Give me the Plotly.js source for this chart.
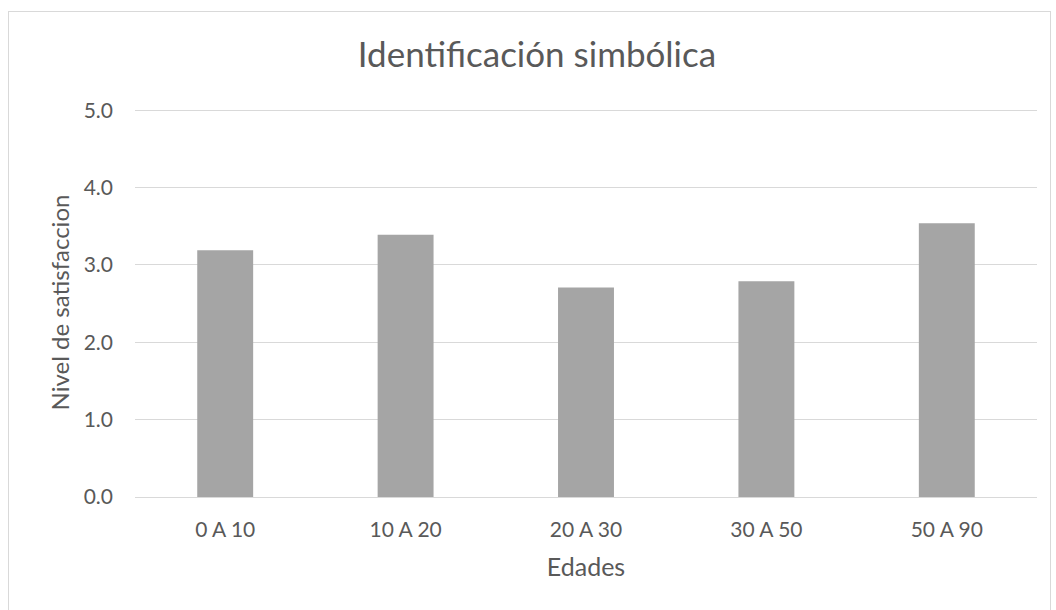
<!DOCTYPE html>
<html><head><meta charset="utf-8">
<script src="https://cdn.plot.ly/plotly-3.0.1.min.js"></script>
<style>body{margin:0;background:#fff}#wrap{position:relative;width:1056px;height:610px}#frame{position:absolute;left:8px;top:11px;width:1041px;height:620px;border:1px solid #d9d9d9;pointer-events:none}</style>
</head><body>
<div id="wrap"><div id="chart" style="width:1056px;height:610px"></div><div id="frame"></div></div>
<script>
const categories = ["0 A 10", "10 A 20", "20 A 30", "30 A 50", "50 A 90"];
const values = [3.19, 3.39, 2.71, 2.79, 3.54];
const yTicks = [0, 1, 2, 3, 4, 5];
const FONT = "Lato, 'Open Sans', sans-serif";
Plotly.newPlot("chart", [{
  type: "bar", x: categories, y: values,
  marker: {color: "#a5a5a5"}, hoverinfo: "x+y"
}], {
  width: 1056, height: 610,
  margin: {l: 135, r: 19, t: 108, b: 113},
  paper_bgcolor: "#fff", plot_bgcolor: "#fff",
  bargap: 0.69,
  title: {text: "Identificación simbólica", x: 0.5085, xanchor: "center", y: 0.91, yanchor: "middle",
          font: {family: FONT, size: 35, color: "#595959"}},
  xaxis: {type: "category", showgrid: false, showline: true, linecolor: "#d9d9d9", linewidth: 1,
          ticks: "", ticklabelstandoff: 14, tickfont: {family: FONT, size: 21, color: "#595959"},
          title: {text: "Edades", standoff: 18, font: {family: FONT, size: 25, color: "#595959"}}},
  yaxis: {range: [0, 5.03], tickvals: yTicks, tickformat: ".1f", showgrid: true, gridcolor: "#d9d9d9",
          zeroline: false, ticks: "", ticklabelstandoff: 21,
          tickfont: {family: FONT, size: 21, color: "#595959"},
          title: {text: "Nivel de satisfaccion", standoff: 7, font: {family: FONT, size: 24, color: "#595959"}}},
  showlegend: false
}, {displayModeBar: false});
</script>
</body></html>
